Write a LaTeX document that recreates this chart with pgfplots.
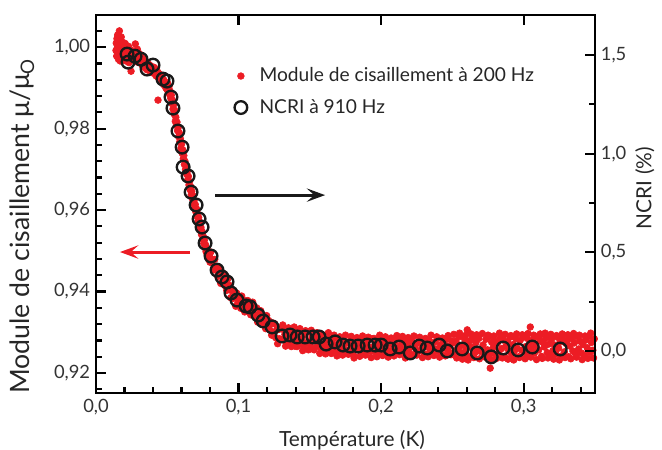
\documentclass[border=0pt]{standalone}
\usepackage{fontspec}
\setmainfont{Lato}
\usepackage{pgfplots}
\usepackage{pgfplotstable}
\pgfplotsset{compat=1.18}
\usetikzlibrary{arrows.meta}

\definecolor{redpt}{RGB}{236,28,36}

% module de cisaillement (axe gauche)
\pgfplotstableread{
T v
0.0140 0.9992
0.0142 1.0010
0.0145 0.9978
0.0147 1.0021
0.0150 0.9999
0.0152 1.0030
0.0154 0.9985
0.0156 1.0008
0.0158 0.9970
0.0160 1.0017
0.0162 0.9994
0.0164 1.0040
0.0166 0.9980
0.0168 1.0004
0.0170 0.9966
0.0172 1.0013
0.0175 0.9990
0.0177 1.0025
0.0180 0.9975
0.0182 1.0001
0.0185 0.9987
0.0187 1.0012
0.0190 0.9968
0.0193 0.9996
0.0196 1.0006
0.0199 0.9981
0.0202 0.9992
0.0205 1.0009
0.0208 0.9972
0.0211 0.9985
0.0214 1.0000
0.0217 0.9965
0.0220 0.9990
0.0224 0.9978
0.0228 1.0002
0.0232 0.9962
0.0236 0.9986
0.0240 0.9973
0.0245 0.9993
0.0246 0.9941
0.0250 0.9970
0.0255 0.9982
0.0260 0.9975
0.0265 0.9990
0.0270 0.9967
0.0275 0.9980
0.0276 1.0008
0.0280 0.9972
0.0285 0.9986
0.0290 0.9995
0.0293 0.9963
0.0297 0.9977
0.0300 0.9970
0.0305 0.9984
0.0310 0.9962
0.0315 0.9978
0.0320 0.9968
0.0325 0.9955
0.0330 0.9972
0.0335 0.9960
0.0340 0.9950
0.0345 0.9966
0.0350 0.9955
0.0355 0.9945
0.0360 0.9962
0.0365 0.9950
0.0370 0.9958
0.0375 0.9942
0.0380 0.9955
0.0385 0.9947
0.0390 0.9938
0.0395 0.9952
0.0400 0.9945
0.0405 0.9936
0.0410 0.9950
0.0415 0.9938
0.0420 0.9930
0.0425 0.9944
0.0430 0.9928
0.0435 0.9870
0.0435 0.9938
0.0440 0.9924
0.0445 0.9934
0.0450 0.9920
0.0455 0.9930
0.0460 0.9915
0.0465 0.9925
0.0470 0.9910
0.0475 0.9920
0.0480 0.9906
0.0485 0.9914
0.0490 0.9900
0.0495 0.9908
0.0500 0.9895
0.0502 0.9912
0.0507 0.9898
0.0512 0.9903
0.0516 0.9884
0.0520 0.9892
0.0524 0.9875
0.0528 0.9882
0.0532 0.9862
0.0536 0.9870
0.0540 0.9848
0.0544 0.9858
0.0548 0.9836
0.0552 0.9845
0.0556 0.9818
0.0560 0.9828
0.0564 0.9808
0.0568 0.9816
0.0572 0.9795
0.0576 0.9802
0.0580 0.9780
0.0584 0.9790
0.0588 0.9768
0.0592 0.9775
0.0596 0.9752
0.0600 0.9762
0.0604 0.9740
0.0608 0.9748
0.0612 0.9726
0.0616 0.9734
0.0620 0.9712
0.0624 0.9720
0.0628 0.9700
0.0632 0.9708
0.0636 0.9688
0.0640 0.9695
0.0644 0.9675
0.0648 0.9683
0.0652 0.9662
0.0656 0.9670
0.0660 0.9650
0.0664 0.9658
0.0668 0.9638
0.0672 0.9646
0.0676 0.9628
0.0680 0.9635
0.0684 0.9616
0.0688 0.9624
0.0692 0.9606
0.0696 0.9614
0.0700 0.9596
0.0704 0.9604
0.0708 0.9585
0.0712 0.9592
0.0716 0.9574
0.0720 0.9582
0.0724 0.9562
0.0728 0.9570
0.0732 0.9550
0.0736 0.9558
0.0740 0.9540
0.0744 0.9548
0.0748 0.9528
0.0752 0.9536
0.0756 0.9518
0.0760 0.9526
0.0764 0.9508
0.0768 0.9515
0.0772 0.9498
0.0776 0.9506
0.0780 0.9490
0.0785 0.9498
0.0790 0.9480
0.0795 0.9488
0.0800 0.9472
0.0805 0.9497
0.0812 0.9472
0.0819 0.9478
0.0826 0.9453
0.0833 0.9479
0.0840 0.9455
0.0847 0.9461
0.0854 0.9437
0.0861 0.9445
0.0868 0.9456
0.0875 0.9420
0.0882 0.9444
0.0889 0.9425
0.0896 0.9444
0.0903 0.9415
0.0910 0.9426
0.0917 0.9403
0.0924 0.9431
0.0931 0.9407
0.0938 0.9415
0.0945 0.9385
0.0952 0.9402
0.0959 0.9383
0.0966 0.9402
0.0973 0.9385
0.0980 0.9364
0.0987 0.9396
0.0994 0.9371
0.1001 0.9379
0.1008 0.9386
0.1015 0.9359
0.1022 0.9389
0.1029 0.9365
0.1036 0.9377
0.1043 0.9350
0.1050 0.9377
0.1057 0.9361
0.1064 0.9378
0.1071 0.9351
0.1078 0.9364
0.1085 0.9343
0.1092 0.9358
0.1099 0.9374
0.1106 0.9341
0.1113 0.9360
0.1120 0.9342
0.1127 0.9360
0.1134 0.9325
0.1141 0.9344
0.1148 0.9331
0.1155 0.9353
0.1162 0.9321
0.1169 0.9339
0.1176 0.9328
0.1183 0.9339
0.1190 0.9309
0.1197 0.9341
0.1204 0.9317
0.1211 0.9329
0.1218 0.9306
0.1225 0.9320
0.1232 0.9293
0.1239 0.9323
0.1246 0.9300
0.1253 0.9321
0.1260 0.9287
0.1267 0.9306
0.1274 0.9272
0.1281 0.9307
0.1288 0.9284
0.1295 0.9310
0.1305 0.9308
0.1315 0.9284
0.1325 0.9295
0.1335 0.9273
0.1345 0.9301
0.1355 0.9287
0.1365 0.9307
0.1375 0.9274
0.1385 0.9292
0.1395 0.9266
0.1405 0.9293
0.1415 0.9279
0.1425 0.9300
0.1435 0.9272
0.1445 0.9284
0.1455 0.9266
0.1465 0.9294
0.1475 0.9274
0.1485 0.9301
0.1495 0.9277
0.1505 0.9266
0.1515 0.9288
0.1525 0.9259
0.1535 0.9281
0.1545 0.9291
0.1555 0.9268
0.1565 0.9277
0.1575 0.9262
0.1585 0.9291
0.1595 0.9271
0.1605 0.9255
0.1615 0.9281
0.1625 0.9265
0.1635 0.9284
0.1645 0.9255
0.1655 0.9277
0.1665 0.9259
0.1675 0.9286
0.1685 0.9268
0.1695 0.9250
0.1705 0.9273
0.1715 0.9254
0.1725 0.9287
0.1735 0.9263
0.1745 0.9277
0.1755 0.9250
0.1765 0.9274
0.1775 0.9256
0.1785 0.9280
0.1795 0.9263
0.1805 0.9245
0.1815 0.9277
0.1825 0.9258
0.1835 0.9268
0.1845 0.9283
0.1855 0.9254
0.1865 0.9271
0.1875 0.9250
0.1885 0.9275
0.1895 0.9260
0.1905 0.9281
0.1915 0.9264
0.1925 0.9253
0.1935 0.9284
0.1945 0.9257
0.1955 0.9269
0.1965 0.9248
0.1975 0.9278
0.1985 0.9262
0.1995 0.9274
0.2005 0.9246
0.2015 0.9279
0.2025 0.9259
0.2035 0.9266
0.2045 0.9251
0.2055 0.9282
0.2065 0.9255
0.2075 0.9272
0.2085 0.9247
0.2095 0.9276
0.2105 0.9261
0.2115 0.9285
0.2125 0.9250
0.2135 0.9267
0.2145 0.9277
0.2155 0.9256
0.2165 0.9283
0.2175 0.9252
0.2185 0.9270
0.2195 0.9258
0.2205 0.9280
0.2215 0.9245
0.2225 0.9275
0.2235 0.9263
0.2245 0.9249
0.2255 0.9273
0.2265 0.9254
0.2275 0.9284
0.2285 0.9260
0.2295 0.9268
0.2305 0.9247
0.2315 0.9278
0.2325 0.9264
0.2335 0.9281
0.2345 0.9255
0.2355 0.9271
0.2365 0.9251
0.2375 0.9276
0.2385 0.9259
0.2395 0.9285
0.2405 0.9253
0.2415 0.9269
0.2425 0.9246
0.2435 0.9274
0.2445 0.9262
0.2455 0.9282
0.2465 0.9257
0.2475 0.9266
0.2485 0.9250
0.2495 0.9279
0.2505 0.9274
0.2515 0.9244
0.2525 0.9278
0.2535 0.9260
0.2545 0.9289
0.2555 0.9251
0.2565 0.9268
0.2575 0.9245
0.2585 0.9284
0.2595 0.9256
0.2604 0.9306
0.2605 0.9271
0.2615 0.9240
0.2625 0.9280
0.2635 0.9264
0.2645 0.9288
0.2655 0.9249
0.2665 0.9275
0.2675 0.9254
0.2685 0.9285
0.2695 0.9259
0.2705 0.9252
0.2715 0.9269
0.2725 0.9242
0.2735 0.9283
0.2745 0.9257
0.2755 0.9290
0.2765 0.9212
0.2765 0.9247
0.2775 0.9276
0.2785 0.9262
0.2795 0.9279
0.2805 0.9245
0.2815 0.9273
0.2825 0.9250
0.2835 0.9286
0.2845 0.9260
0.2855 0.9281
0.2865 0.9241
0.2875 0.9266
0.2885 0.9278
0.2895 0.9255
0.2905 0.9288
0.2915 0.9246
0.2925 0.9270
0.2935 0.9254
0.2945 0.9284
0.2955 0.9261
0.2965 0.9240
0.2975 0.9280
0.2985 0.9256
0.2995 0.9289
0.3005 0.9251
0.3015 0.9265
0.3025 0.9285
0.3035 0.9244
0.3045 0.9274
0.3046 0.9313
0.3055 0.9259
0.3065 0.9281
0.3075 0.9249
0.3085 0.9268
0.3095 0.9290
0.3105 0.9257
0.3115 0.9279
0.3116 0.9296
0.3125 0.9241
0.3135 0.9275
0.3145 0.9264
0.3155 0.9286
0.3165 0.9250
0.3175 0.9271
0.3185 0.9245
0.3195 0.9283
0.3205 0.9255
0.3215 0.9269
0.3225 0.9247
0.3235 0.9288
0.3245 0.9261
0.3255 0.9276
0.3265 0.9242
0.3275 0.9284
0.3285 0.9252
0.3295 0.9273
0.3305 0.9280
0.3315 0.9240
0.3325 0.9266
0.3335 0.9285
0.3345 0.9254
0.3355 0.9274
0.3365 0.9246
0.3375 0.9289
0.3385 0.9259
0.3395 0.9278
0.3405 0.9249
0.3415 0.9270
0.3425 0.9244
0.3435 0.9281
0.3445 0.9262
0.3455 0.9290
0.3465 0.9251
0.3475 0.9275
0.3485 0.9256
0.3495 0.9284
0.1310 0.9318
0.1330 0.9266
0.1350 0.9311
0.1370 0.9265
0.1390 0.9313
0.1410 0.9265
0.1430 0.9309
0.1450 0.9255
0.1470 0.9304
0.1490 0.9257
0.1510 0.9305
0.1530 0.9257
0.1550 0.9299
0.1570 0.9248
0.1590 0.9293
0.1610 0.9247
0.1630 0.9299
0.1650 0.9248
0.1670 0.9293
0.1690 0.9242
0.1710 0.9289
0.1730 0.9244
0.1750 0.9293
0.1770 0.9246
0.1790 0.9290
0.1810 0.9237
0.1830 0.9287
0.1850 0.9241
0.1870 0.9291
0.1890 0.9244
0.1910 0.9288
0.1930 0.9238
0.1950 0.9285
0.1970 0.9240
0.1990 0.9293
0.2010 0.9243
0.2030 0.9289
0.2050 0.9239
0.2070 0.9286
0.2090 0.9242
0.2110 0.9292
0.2130 0.9245
0.2150 0.9290
0.2170 0.9237
0.2190 0.9287
0.2210 0.9241
0.2230 0.9291
0.2250 0.9244
0.2270 0.9288
0.2290 0.9238
0.2310 0.9285
0.2330 0.9240
0.2350 0.9293
0.2370 0.9243
0.2390 0.9289
0.2410 0.9239
0.2430 0.9286
0.2450 0.9242
0.2470 0.9292
0.2490 0.9245
0.2510 0.9295
0.2530 0.9237
0.2550 0.9298
0.2570 0.9234
0.2590 0.9292
0.2610 0.9232
0.2630 0.9296
0.2650 0.9238
0.2670 0.9294
0.2690 0.9235
0.2710 0.9297
0.2730 0.9239
0.2750 0.9293
0.2770 0.9233
0.2790 0.9291
0.2810 0.9236
0.2830 0.9298
0.2850 0.9237
0.2870 0.9295
0.2890 0.9234
0.2910 0.9292
0.2930 0.9232
0.2950 0.9296
0.2970 0.9238
0.2990 0.9294
0.3010 0.9235
0.3030 0.9297
0.3050 0.9239
0.3070 0.9293
0.3090 0.9233
0.3110 0.9291
0.3130 0.9236
0.3150 0.9298
0.3170 0.9237
0.3190 0.9295
0.3210 0.9234
0.3230 0.9292
0.3250 0.9232
0.3270 0.9296
0.3290 0.9238
0.3310 0.9294
0.3330 0.9235
0.3350 0.9297
0.3370 0.9239
0.3390 0.9293
0.3410 0.9233
0.3430 0.9291
0.3450 0.9236
0.3470 0.9298
0.3490 0.9237
}\shear

% NCRI (axe droit)
\pgfplotstableread{
T n
0.0218 1.505
0.0274 1.494
0.0225 1.464
0.0316 1.479
0.0358 1.429
0.0400 1.449
0.0470 1.378
0.0498 1.368
0.0526 1.287
0.0540 1.231
0.0575 1.115
0.0604 1.033
0.0611 0.932
0.0646 0.887
0.0667 0.805
0.0702 0.740
0.0723 0.669
0.0744 0.628
0.0765 0.547
0.0807 0.481
0.0849 0.410
0.0884 0.375
0.0919 0.350
0.0947 0.294
0.0989 0.258
0.1053 0.228
0.1081 0.223
0.1137 0.182
0.1172 0.152
0.1235 0.122
0.1305 0.076
0.1361 0.081
0.1411 0.071
0.1467 0.071
0.1523 0.071
0.1565 0.071
0.1614 0.035
0.1677 0.046
0.1733 0.030
0.1782 0.025
0.1839 0.025
0.1902 0.030
0.1958 0.030
0.2000 0.030
0.2063 0.010
0.2126 0.020
0.2204 -0.010
0.2267 0.025
0.2323 0.015
0.2407 0.030
0.2463 0.000
0.2568 0.010
0.2674 -0.010
0.2772 -0.030
0.2856 0.015
0.2961 0.005
0.3060 0.020
0.3256 0.010
}\ncri

\pgfplotsset{
  every axis/.append style={
    scale only axis, width=299.4pt, height=226.8pt,
    xmin=0, xmax=0.35,
    tick align=inside,
    axis line style={line width=1.5pt},
    every tick/.style={black, line width=1.3pt},
    major tick length=6pt, minor tick length=3.5pt,
    /pgf/number format/assume math mode=true,
    tick label style={font=\fontsize{11}{13}\selectfont, text=black!80},
  }
}

\begin{document}
\begin{tikzpicture}
\useasboundingbox (-57.6pt,-34.2pt) rectangle (339.6pt,235.8pt);

\begin{axis}[
  ymin=0.9151, ymax=1.0079,
  xtick={0,0.1,0.2,0.3},
  minor xtick={0.02,0.04,0.06,0.08,0.12,0.14,0.16,0.18,0.22,0.24,0.26,0.28,0.32,0.34},
  ytick={0.92,0.94,0.96,0.98,1.00},
  minor ytick={0.916,0.924,0.928,0.932,0.936,0.944,0.948,0.952,0.956,0.964,0.968,0.972,0.976,0.984,0.988,0.992,0.996,1.004},
  xtick pos=left, ytick pos=left,
  xticklabel style={/pgf/number format/fixed, /pgf/number format/fixed zerofill,
    /pgf/number format/precision=1, /pgf/number format/use comma},
  yticklabel style={/pgf/number format/fixed, /pgf/number format/fixed zerofill,
    /pgf/number format/precision=2, /pgf/number format/use comma},
  xlabel={Température (K)},
  ylabel={Module de cisaillement μ/μ\textsubscript{O}},
  xlabel style={font=\fontsize{12.5}{14}\selectfont, text=black!85,
    at={(axis description cs:0.513,-0.124)}, anchor=center},
  ylabel style={font=\fontsize{16}{18}\selectfont, text=black!85,
    at={(axis description cs:-0.148,0.442)}, anchor=center},
]
\addplot[only marks, mark=*, mark size=2pt, color=redpt,
  mark options={draw=redpt, fill=redpt}] table[x=T, y=v] {\shear};
\end{axis}

\begin{axis}[
  ymin=-0.213, ymax=1.703,
  xtick={0.1,0.2,0.3}, minor xtick={},
  xticklabels={},
  ytick={0,0.5,1.0,1.5},
  minor ytick={0.25,0.75,1.25},
  xtick pos=right, ytick pos=right, yticklabel pos=right,
  yticklabel style={/pgf/number format/fixed, /pgf/number format/fixed zerofill,
    /pgf/number format/precision=1, /pgf/number format/use comma},
  ylabel={NCRI (\%)},
  ylabel style={font=\fontsize{12.5}{14}\selectfont, text=black!85,
    at={(axis description cs:1.100,0.542)}, anchor=center, rotate=0},
  legend style={draw=none, fill=none, at={(axis description cs:0.267,0.879)},
    anchor=north west, font=\fontsize{11.5}{13}\selectfont, row sep=5pt,
    column sep=5.4pt, text=black!85},
  legend cell align=left,
]
\addlegendimage{only marks, mark=*, mark size=2pt, color=redpt}
\addlegendentry{Module de cisaillement à 200 Hz}
\addplot[only marks, mark=o, mark size=3.8pt, line width=1.4pt, color=black!90]
  table[x=T, y=n] {\ncri};
\addlegendentry{NCRI à 910 Hz}

\draw[line width=1.8pt, black!90, -{Stealth[length=11pt, width=8pt, inset=4.5pt]}]
  (axis cs:0.0835,0.790) -- (axis cs:0.1607,0.790);
\draw[line width=1.8pt, redpt, -{Stealth[length=11pt, width=8pt, inset=4.5pt]}]
  (axis cs:0.066,0.5015) -- (axis cs:0.0168,0.5015);
\end{axis}
\end{tikzpicture}
\end{document}
